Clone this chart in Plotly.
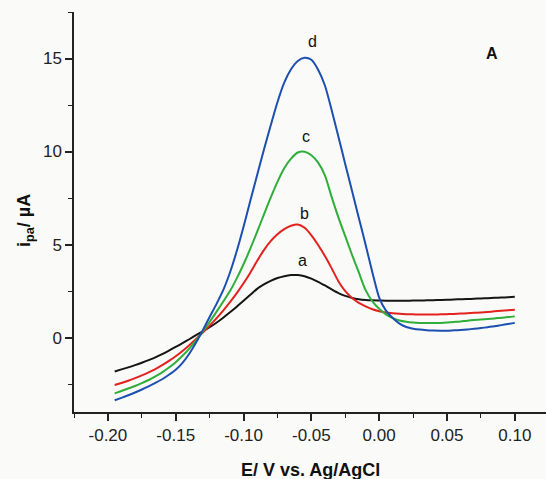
import plotly.graph_objects as go

# Potential (V vs. Ag/AgCl), 5 mV steps
potential = [-0.195, -0.190, -0.185, -0.180, -0.175, -0.170, -0.165, -0.160, -0.155, -0.150,
             -0.145, -0.140, -0.135, -0.130, -0.125, -0.120, -0.115, -0.110, -0.105, -0.100,
             -0.095, -0.090, -0.085, -0.080, -0.075, -0.070, -0.065, -0.060, -0.055, -0.050,
             -0.045, -0.040, -0.035, -0.030, -0.025, -0.020, -0.015, -0.010, -0.005, 0.000,
             0.005, 0.010, 0.015, 0.020, 0.025, 0.030, 0.035, 0.040, 0.045, 0.050,
             0.055, 0.060, 0.065, 0.070, 0.075, 0.080, 0.085, 0.090, 0.095, 0.100]

# Anodic current (µA) for traces a-d
current_a = [-1.82, -1.71, -1.60, -1.48, -1.35, -1.21, -1.06, -0.89, -0.70, -0.50,
             -0.30, -0.09, 0.13, 0.34, 0.56, 0.80, 1.07, 1.36, 1.66, 1.98,
             2.30, 2.62, 2.86, 3.05, 3.20, 3.30, 3.36, 3.36, 3.30, 3.17,
             3.00, 2.80, 2.59, 2.39, 2.24, 2.13, 2.06, 2.02, 2.00, 1.99,
             1.98, 1.98, 1.98, 1.98, 1.99, 1.99, 2.00, 2.01, 2.02, 2.03,
             2.05, 2.06, 2.07, 2.09, 2.10, 2.12, 2.14, 2.15, 2.17, 2.19]
current_b = [-2.55, -2.44, -2.32, -2.18, -2.03, -1.87, -1.69, -1.48, -1.25, -1.00,
             -0.72, -0.41, -0.08, 0.27, 0.64, 1.03, 1.45, 1.90, 2.39, 2.92,
             3.49, 4.12, 4.70, 5.18, 5.55, 5.83, 6.01, 6.08, 5.90, 5.50,
             4.98, 4.38, 3.72, 3.02, 2.50, 2.13, 1.87, 1.68, 1.52, 1.42,
             1.35, 1.31, 1.28, 1.26, 1.25, 1.24, 1.24, 1.24, 1.25, 1.26,
             1.27, 1.29, 1.31, 1.33, 1.35, 1.38, 1.41, 1.44, 1.47, 1.50]
current_c = [-3.00, -2.87, -2.74, -2.60, -2.45, -2.28, -2.09, -1.87, -1.61, -1.32,
             -0.98, -0.59, -0.15, 0.33, 0.84, 1.38, 1.93, 2.50, 3.18, 3.94,
             4.78, 5.68, 6.61, 7.52, 8.37, 9.10, 9.62, 9.95, 9.99, 9.80,
             9.40, 8.72, 7.55, 6.45, 5.45, 4.45, 3.50, 2.55, 1.95, 1.55,
             1.25, 1.05, 0.92, 0.85, 0.81, 0.79, 0.78, 0.78, 0.79, 0.81,
             0.84, 0.87, 0.91, 0.94, 0.97, 1.00, 1.03, 1.07, 1.10, 1.14]
current_d = [-3.37, -3.24, -3.10, -2.95, -2.79, -2.62, -2.44, -2.24, -2.00, -1.73,
             -1.36, -0.87, -0.27, 0.40, 1.11, 1.80, 2.55, 3.50, 4.65, 5.96,
             7.35, 8.72, 10.10, 11.40, 12.65, 13.70, 14.42, 14.87, 15.04, 14.93,
             14.40, 13.55, 12.22, 10.78, 9.32, 7.88, 6.43, 4.99, 3.50, 2.15,
             1.45, 1.05, 0.75, 0.57, 0.48, 0.43, 0.40, 0.38, 0.37, 0.37,
             0.39, 0.41, 0.44, 0.47, 0.51, 0.56, 0.61, 0.67, 0.73, 0.79]

trace_names = ["a", "b", "c", "d"]
trace_colors = ["#151515", "#e3221f", "#2fae3a", "#1c4fb0"]
# label anchor (E, i) for each trace name
label_pos = [(-0.0562, 4.17), (-0.0554, 6.69), (-0.054, 10.83), (-0.0495, 15.89)]

x_ticks = [-0.20, -0.15, -0.10, -0.05, 0.00, 0.05, 0.10]
x_ticktext = ["-0.20", "-0.15", "-0.10", "-0.05", "0.00", "0.05", "0.10"]
y_ticks = [0, 5, 10, 15]

FONT = "Liberation Sans, Arial, sans-serif"
INK = "#222222"

fig = go.Figure()
for name, ys, col in zip(trace_names, [current_a, current_b, current_c, current_d], trace_colors):
    fig.add_trace(go.Scatter(
        x=potential, y=ys, mode="lines", name=name,
        line=dict(color=col, width=2, shape="spline", smoothing=0.7),
        showlegend=False, hoverinfo="skip",
    ))

annotations = []
for name, (ex, iy) in zip(trace_names, label_pos):
    annotations.append(dict(x=ex, y=iy, xref="x", yref="y", text=name, showarrow=False,
                            font=dict(family=FONT, size=16, color="#111111"),
                            xanchor="center", yanchor="middle"))
annotations.append(dict(x=0.083, y=15.28, xref="x", yref="y", text="<b>A</b>", showarrow=False,
                        font=dict(family=FONT, size=16, color="#111111"),
                        xanchor="center", yanchor="middle"))
annotations.append(dict(x=0.5, y=-0.145, xref="paper", yref="paper",
                        text="<b>E/ V vs. Ag/AgCl</b>", showarrow=False,
                        font=dict(family=FONT, size=18, color="#111111"),
                        xanchor="center", yanchor="middle"))
annotations.append(dict(x=-0.104, y=0.48, xref="paper", yref="paper",
                        text="<b>i<sub>pa</sub>/ µA</b>", showarrow=False, textangle=-90,
                        font=dict(family=FONT, size=18, color="#111111"),
                        xanchor="center", yanchor="middle"))

fig.update_layout(
    width=546, height=479,
    margin=dict(l=74, r=0, t=12, b=67),
    paper_bgcolor="#fafaf8", plot_bgcolor="#fafaf8",
    annotations=annotations,
    font=dict(family=FONT, color=INK),
)
fig.update_xaxes(
    range=[-0.225, 0.123], tickvals=x_ticks, ticktext=x_ticktext,
    ticks="outside", ticklen=7, tickwidth=1.5, tickcolor=INK,
    minor=dict(tickvals=[-0.225, -0.175, -0.125, -0.075, -0.025, 0.025, 0.075, 0.125],
               ticks="outside", ticklen=4, tickwidth=1.2, tickcolor=INK),
    showline=True, linecolor=INK, linewidth=1.5,
    showgrid=False, zeroline=False,
    tickfont=dict(family=FONT, size=17, color=INK),
)
fig.update_yaxes(
    range=[-4.0, 17.5], tickvals=y_ticks,
    ticks="outside", ticklen=7, tickwidth=1.5, tickcolor=INK,
    minor=dict(tickvals=[-2.5, 2.5, 7.5, 12.5, 17.5],
               ticks="outside", ticklen=4, tickwidth=1.2, tickcolor=INK),
    showline=True, linecolor=INK, linewidth=1.5,
    showgrid=False, zeroline=False,
    tickfont=dict(family=FONT, size=17, color=INK),
)

fig.write_html("out.html")
